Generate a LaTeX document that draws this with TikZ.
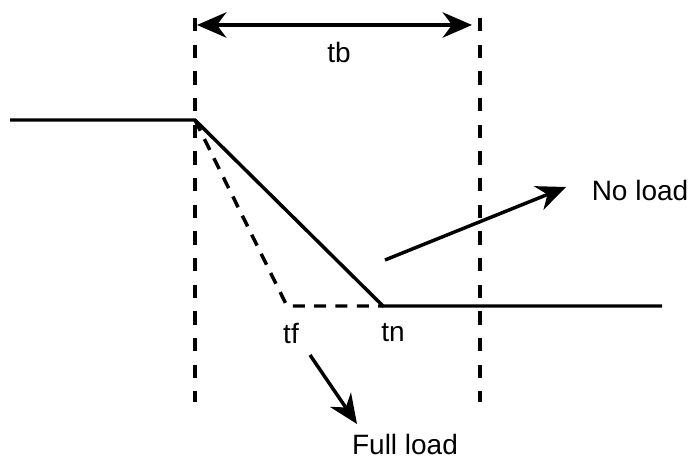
\documentclass[tikz,border=0pt]{standalone}
\usepackage{fontspec}
\setmainfont{Liberation Sans}
\usetikzlibrary{arrows.meta}
\begin{document}
\begin{tikzpicture}[x=0.75pt,y=-0.75pt,
  curve/.style={line width=2.6pt},
  guide/.style={line width=2.6pt,dash pattern=on 10pt off 10pt},
  slant/.style={line width=2.6pt,dash pattern=on 9pt off 7pt},
  pointer/.style={line width=2.6pt,-{Stealth[length=22pt,width=19pt,inset=7pt]}},
  lbl/.style={font=\fontsize{21}{24}\selectfont,inner sep=0pt}]
\useasboundingbox (0,0) rectangle (691,463);
% key points
\coordinate (L) at (10,120);
\coordinate (K) at (195,120);
\coordinate (N) at (383,306);
\coordinate (F) at (287,306);
\coordinate (R) at (662,306);
\coordinate (V1t) at (195,18);
\coordinate (V1b) at (195,402);
\coordinate (V2t) at (480,18);
\coordinate (V2b) at (480,402);
\coordinate (Al) at (197,25);
\coordinate (Ar) at (472,25);
\coordinate (NLs) at (385,260);
\coordinate (NLe) at (566,187);
\coordinate (FLs) at (310,355);
\coordinate (FLe) at (357,424);
% lines
\draw[curve] (L) -- (K) -- (N) -- (R);
\draw[slant] (K) -- (F) -- (N);
\draw[guide] (V1t) -- (V1b);
\draw[guide] (V2t) -- (V2b);
\draw[line width=2.6pt,{Stealth[length=22pt,width=19pt,inset=7pt]}-{Stealth[length=22pt,width=19pt,inset=7pt]}] (Al) -- (Ar);
\draw[pointer] (NLs) -- (NLe);
\draw[pointer] (FLs) -- (FLe);
% labels
\node[lbl] (tb) at (339,52) {tb};
\node[lbl] (nl) at (640,190) {No load};
\node[lbl] (tf) at (291,333) {tf};
\node[lbl] (tn) at (393,333) {tn};
\node[lbl] (fl) at (405,444) {Full load};
\end{tikzpicture}
\end{document}
